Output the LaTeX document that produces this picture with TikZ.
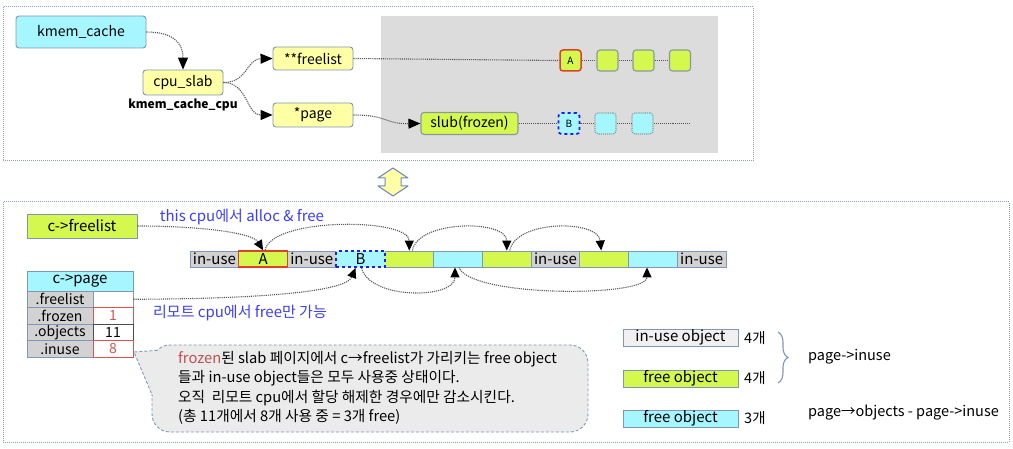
\documentclass[tikz,border=0pt]{standalone}
\usepackage{fontspec}
\setmainfont{Noto Sans CJK KR}
\usetikzlibrary{arrows.meta,decorations.pathreplacing}
\definecolor{bord}{HTML}{7F96B8}
\definecolor{cyanf}{HTML}{A6F6FF}
\definecolor{yelf}{HTML}{FFFFA6}
\definecolor{grnf}{HTML}{D5F84E}
\definecolor{greyarea}{HTML}{DCDCDC}
\definecolor{inusef}{HTML}{D2D2D2}
\definecolor{redb}{HTML}{E0402A}
\definecolor{redt}{HTML}{E05050}
\definecolor{blueb}{HTML}{1E1EE6}
\definecolor{bluet}{HTML}{3C3CFF}
\definecolor{panelb}{HTML}{8C9CC8}
\definecolor{connc}{HTML}{555555}
\definecolor{bubf}{HTML}{EBEBEB}
\definecolor{frz}{HTML}{C0504D}
\definecolor{sqb}{HTML}{8A9A9A}
\definecolor{legf}{HTML}{F0F0F0}
\newcommand\fsz[1]{\fontsize{#1}{#1}\selectfont}
\tikzset{
  panel/.style={draw=panelb, densely dotted, line width=1pt},
  rbox/.style={draw=bord, line width=0.9pt, rounded corners=3pt, inner sep=0pt, font=\fsz{14}},
  sq/.style={draw=sqb, line width=1.1pt, rounded corners=3pt, fill=grnf, minimum width=21pt, minimum height=21pt, inner sep=0pt, font=\fsz{10}},
  csq/.style={draw=sqb, densely dotted, line width=1.1pt, rounded corners=3pt, fill=cyanf, minimum width=21pt, minimum height=21pt, inner sep=0pt, font=\fsz{10}},
  conn/.style={draw=connc, densely dotted, line width=1.1pt},
  tip/.style={-{Triangle[length=12pt,width=10pt,color=black]}},
  stip/.style={-{Triangle[length=10pt,width=9pt,color=black]}},
  cell/.style={draw=bord, line width=0.9pt, minimum width=48.73pt, minimum height=16pt, inner sep=0pt, font=\fsz{15}},
  tcell/.style={draw=bord, line width=0.9pt, minimum height=16.5pt, inner sep=0pt, font=\fsz{14}},
  leg/.style={draw=bord, line width=0.9pt, minimum width=115pt, minimum height=17pt, inner sep=0pt, font=\fsz{15}},
  bluetxt/.style={text=bluet, font=\fsz{15}, inner sep=0pt},
  plain/.style={font=\fsz{14.5}, inner sep=0pt},
}
\begin{document}
\begin{tikzpicture}[x=1pt,y=-1pt]
\useasboundingbox (0,0) rectangle (1013,449);
% ---------- top panel ----------
\draw[panel] (3,7) rectangle (753,161);
\fill[greyarea] (381,16) rectangle (718,153);
\node[rbox, fill=cyanf, minimum width=130pt, minimum height=32pt] (kc) at (81,32) {kmem\_cache};
\node[rbox, fill=yelf, minimum width=80pt, minimum height=25pt] (cs) at (183,82.5) {cpu\_slab};
\node[font=\bfseries\fsz{12}, inner sep=0pt] (kcc) at (183,105) {kmem\_cache\_cpu};
\node[rbox, fill=yelf, minimum width=80pt, minimum height=23pt] (fl) at (313,58.5) {**freelist};
\node[rbox, fill=yelf, minimum width=80pt, minimum height=24pt] (pg) at (313,115) {*page};
\node[sq, draw=redb, line width=1.5pt] (ta) at (570.5,60.5) {A};
\node[sq] (s1) at (607.5,60.5) {};
\node[sq] (s2) at (643.5,60.5) {};
\node[sq] (s3) at (680,60.5) {};
\node[rbox, draw=sqb, line width=1.1pt, fill=grnf, minimum width=97pt, minimum height=22pt] (sl) at (469.5,123.5) {slub(frozen)};
\node[csq, draw=blueb, dashed, line width=1.8pt] (tb) at (569,123.5) {B};
\node[csq] (c1) at (605.5,123.5) {};
\node[csq] (c2) at (642.5,123.5) {};
\coordinate (cend) at (690,123.5);
\draw[conn, tip] (kc.east) .. controls (172,32) and (183,42) .. (cs.north);
\draw[conn, tip] (cs.east) .. controls (248,82.5) and (246,59) .. (fl.west);
\draw[conn, tip] (cs.east) .. controls (248,82.5) and (246,115) .. (pg.west);
\draw[conn, tip] (pg.east) .. controls (388,115) and (384,124) .. (sl.west);
\draw[conn] (fl.east) -- (ta.west);
\draw[conn] (ta.east) -- (s1.west);
\draw[conn] (s1.east) -- (s2.west);
\draw[conn] (s2.east) -- (s3.west);
\draw[conn] (sl.east) -- (tb.west);
\draw[conn] (tb.east) -- (c1.west);
\draw[conn] (c1.east) -- (c2.west);
\draw[conn] (c2.east) -- (cend);
% ---------- double arrow ----------
\draw[draw=bord!90!blue, line width=1pt, fill=yelf, line join=round]
  (393,168) -- (408,178) -- (401,178) -- (401,186) -- (408,186) -- (393,196)
  -- (378,186) -- (385,186) -- (385,178) -- (378,178) -- cycle;
% ---------- bottom panel ----------
\draw[panel] (3,202) rectangle (1009,442);
\node[draw=bord, line width=0.9pt, fill=grnf, minimum width=110pt, minimum height=24pt, inner sep=0pt, font=\fsz{15}] (cf) at (82,226) {c->freelist};
\node[bluetxt] (t1) at (242,217) {this cpu에서 alloc \& free};
% strip
\node[cell, fill=inusef] (u1) at (214.4,259) {in-use};
\node[cell, fill=inusef] (u2) at (311.8,259) {in-use};
\node[cell, fill=grnf] (g1) at (409.3,259) {};
\node[cell, fill=cyanf] (y1) at (458.0,259) {};
\node[cell, fill=grnf] (g2) at (506.8,259) {};
\node[cell, fill=inusef] (u3) at (555.5,259) {in-use};
\node[cell, fill=grnf] (g3) at (604.2,259) {};
\node[cell, fill=cyanf] (y2) at (653.0,259) {};
\node[cell, fill=inusef] (u4) at (701.7,259) {in-use};
\node[cell, fill=grnf, draw=redb, line width=1.5pt] (sa) at (263.1,259) {A};
\node[cell, fill=cyanf, draw=blueb, dashed, line width=1.8pt] (sb) at (360.5,259) {B};
% table
\node[tcell, fill=cyanf, minimum width=106pt, minimum height=20pt, font=\fsz{15}] (cp) at (80,281) {c->page};
\node[tcell, fill=inusef, minimum width=66pt] (l1) at (60,299.25) {.freelist};
\node[tcell, fill=inusef, minimum width=66pt] (l2) at (60,315.75) {.frozen};
\node[tcell, fill=inusef, minimum width=66pt] (l3) at (60,332.25) {.objects};
\node[tcell, fill=inusef, minimum width=66pt] (l4) at (60,348.75) {.inuse};
\node[tcell, fill=white, minimum width=40pt] (v1) at (113,299.25) {};
\node[tcell, fill=white, minimum width=40pt, draw=redt, text=redt] (v2) at (113,315.75) {1};
\node[tcell, fill=white, minimum width=40pt, draw=black!70] (v3) at (113,332.25) {11};
\node[tcell, fill=white, minimum width=40pt, draw=redt, text=redt] (v4) at (113,348.75) {8};
\node[bluetxt] (t2) at (240,313) {리모트 cpu에서 free만 가능};
% strip connectors
\draw[conn, stip] (cf.east) .. controls (195,226) and (252,232) .. (sa.north);
\draw[conn, stip] ([xshift=2pt]sa.north) .. controls +(6,-33) and +(0,-33) .. (g1.north);
\draw[conn, stip] ([xshift=3pt]g1.north) .. controls +(6,-31) and +(0,-31) .. (g2.north);
\draw[conn, stip] ([xshift=3pt]g2.north) .. controls +(6,-31) and +(-3,-31) .. ([xshift=-3pt]g3.north);
\draw[conn, stip] (v1.east) .. controls (235,299) and (345,294) .. ([xshift=-5pt]sb.south);
\draw[conn, stip] ([xshift=1pt]sb.south) .. controls +(8,32) and +(0,32) .. ([xshift=-3pt]y1.south);
\draw[conn, stip] ([xshift=1pt]y1.south) .. controls +(12,30) and +(0,30) .. ([xshift=-6pt]y2.south);
% bubble
\draw[draw=bord, densely dashed, line width=0.9pt, fill=bubf, rounded corners=18pt] (152,345) rectangle (588,432);
\fill[bubf] (134,352) -- (157.3,350.3) -- (172,365) -- (172,396) -- (152.5,396) -- cycle;
\draw[draw=bord, densely dashed, line width=0.9pt] (157.3,350.3) -- (134,352) -- (152.5,396);
\node[anchor=north west, align=left, inner sep=0pt, font=\fontsize{14.7}{19.5}\selectfont] (bt) at (178,351)
 {\textcolor{frz}{frozen}된 slab 페이지에서 c→freelist가 가리키는 free object\\
  들과 in-use object들은 모두 사용중 상태이다.\\
  오직\ \ 리모트 cpu에서 할당 해제한 경우에만 감소시킨다.\\
  (총 11개에서 8개 사용 중 = 3개 free)};
% legend
\node[leg, fill=legf] (lg1) at (680.5,337.5) {in-use object};
\node[leg, fill=grnf] (lg2) at (680.5,378.5) {free object};
\node[leg, fill=cyanf] (lg3) at (680.5,418.5) {free object};
\node[plain, anchor=west] (n1) at (744,338) {4개};
\node[plain, anchor=west] (n2) at (744,378) {4개};
\node[plain, anchor=west] (n3) at (744,418) {3개};
\draw[draw=bord, line width=1.1pt, decorate, decoration={brace, amplitude=10pt}] (778,332) -- (778,383);
\node[plain, anchor=west] (pi) at (808,357) {page->inuse};
\node[plain, anchor=west] (po) at (808,413) {page→objects - page->inuse};
\end{tikzpicture}
\end{document}
